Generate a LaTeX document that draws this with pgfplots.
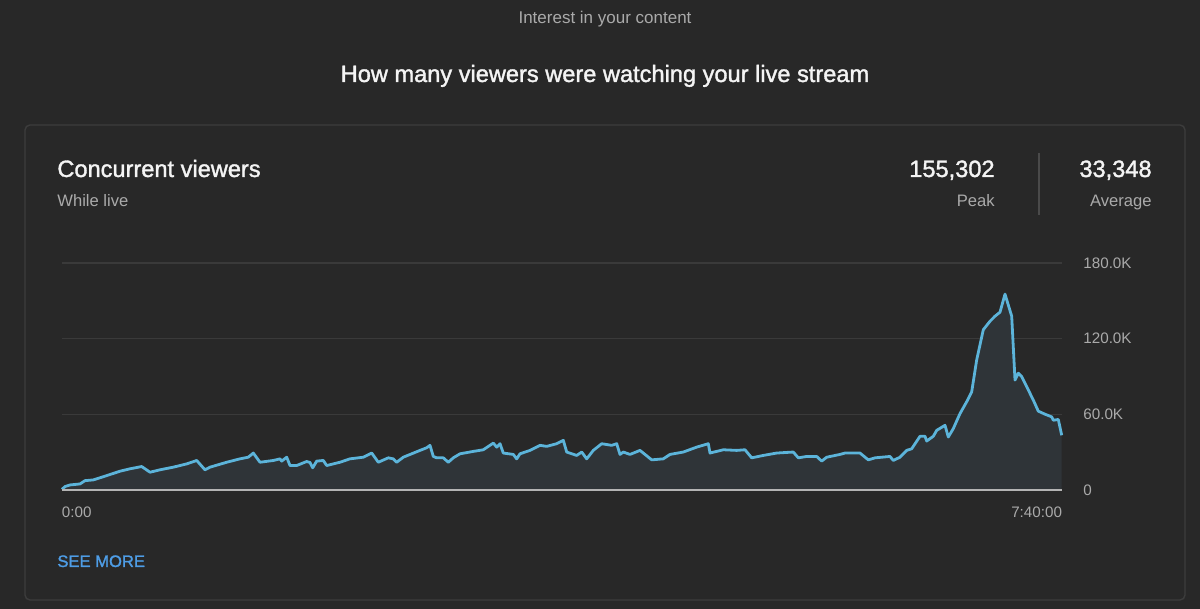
\documentclass[border=0pt]{standalone}
\usepackage{pgfplots}
\pgfplotsset{compat=1.18}
\usepackage{pgfplotstable}
\usepackage{fontspec}
\setmainfont{Liberation Sans}
\newfontfamily\med[FakeBold=1.5]{Liberation Sans}
\definecolor{bg}{HTML}{282828}
\definecolor{cardborder}{HTML}{3C3C3C}
\definecolor{graytext}{HTML}{AAAAAA}
\definecolor{whitetext}{HTML}{F4F4F4}
\definecolor{linec}{HTML}{5CB4DA}
\definecolor{fillc}{HTML}{2F3438}
\definecolor{gridc}{HTML}{3A3A3A}
\definecolor{basec}{HTML}{B4B4B4}
\definecolor{bluetext}{HTML}{4E9DE6}
\definecolor{divc}{HTML}{4A4A4A}

\pgfplotstableread{
p v
0 0.5
3 2.7
8 4
18 4.8
23 7.4
31.3 8
44.7 11.4
58 14.9
68 16.8
79.7 18.6
88 14.1
98 16
111.3 18.1
124.7 20.7
134.7 23.4
143 16
148 18.1
164.7 22
178 24.7
186.3 26
191.3 29.3
198 22
211.3 23.4
218 24.7
219.7 22.9
224.7 26
228 19.4
234.7 19.4
244.7 22.6
248 21.8
250.7 17.6
254.7 22.9
261.3 23.4
264.7 19.4
278 22
288 24.7
301.3 26
309.7 29.3
316.3 22
326.3 25.5
331.3 24.7
334.7 22
341.3 26
358 31.4
364.7 33.5
368 35.4
371.3 26.6
374.7 25.5
381.3 25.5
386.3 22
391.3 25.5
398 28.7
411.3 30.6
421.3 31.9
431.3 37.2
434.7 34
438 36.7
441.3 29.3
451.3 28.2
454.7 24.7
458 28.7
468 31.4
478 35.4
484.7 34.6
494.7 36.7
501.3 39.4
504.7 30.1
514.7 27.4
519.7 30.1
524.7 24.7
531.3 31.4
539.7 36.7
549.7 35.4
554.7 36.7
558 28.2
561.3 30.1
568 28.2
578 31.4
589.7 23.9
601.3 24.7
608 28.2
621.3 30.1
634.7 34
646.3 36.7
648 29.3
661.3 31.9
674.7 31.4
683 31.9
689.7 25.5
701.3 27.4
714.7 29.3
731.3 30.1
736.3 25.5
744.7 26.6
754.7 26.6
759.7 22.9
764.7 26
778 28.2
783 29.3
798 29.3
806.3 23.9
813 25.5
828 26.6
831.3 23.4
838 26
844.7 31.4
849.7 32.7
858 42.6
863 42.6
864.7 38.8
871.3 42.6
874.7 47.3
883 51.3
886.3 42
891.3 48.7
898 60.6
904.7 70
909.7 77.9
914.7 103.2
921.3 127.1
928 133.8
933 137.8
938 141
943 155.3
949.7 137.8
953 87.2
956.3 92.6
959.7 89.9
964.7 81.9
971.3 71.3
976.3 62.5
983 60.1
989.7 58
991.3 55.3
996.3 55.9
999.7 43.4
}\viewers

\begin{document}
\begin{tikzpicture}
\fill[bg] (0pt,0pt) rectangle (600pt,304.5pt);
\useasboundingbox (0pt,0pt) rectangle (600pt,304.5pt);
\draw[cardborder, line width=0.7pt, rounded corners=2.5pt] (12.5pt,4.5pt) rectangle (592.5pt,242pt);
\node[anchor=base, inner sep=0pt, text=graytext, font=\fontsize{8.5}{10}\selectfont] at (302.5pt,292.5pt) {Interest in your content};
\node[anchor=base, inner sep=0pt, text=whitetext, font=\med\fontsize{11.8}{14}\selectfont] at (302.5pt,263.5pt) {How many viewers were watching your live stream};
\node[anchor=base west, inner sep=0pt, text=whitetext, font=\med\fontsize{11.8}{14}\selectfont] at (28.5pt,216pt) {Concurrent viewers};
\node[anchor=base west, inner sep=0pt, text=graytext, font=\fontsize{8.3}{10}\selectfont] at (28.5pt,201pt) {While live};
\node[anchor=base east, inner sep=0pt, text=whitetext, font=\med\fontsize{11.8}{14}\selectfont] at (497.5pt,216pt) {155,302};
\node[anchor=base east, inner sep=0pt, text=graytext, font=\fontsize{8.3}{10}\selectfont] at (497.5pt,201pt) {Peak};
\draw[divc, line width=0.6pt] (519.5pt,197pt) -- (519.5pt,228pt);
\node[anchor=base east, inner sep=0pt, text=whitetext, font=\med\fontsize{11.8}{14}\selectfont] at (576pt,216pt) {33,348};
\node[anchor=base east, inner sep=0pt, text=graytext, font=\fontsize{8.3}{10}\selectfont] at (576pt,201pt) {Average};
\node[anchor=base west, inner sep=0pt, text=bluetext, font=\med\fontsize{8.3}{10}\selectfont] at (28.5pt,21pt) {SEE MORE};
\begin{axis}[
  at={(31pt,59.5pt)}, anchor=south west,
  scale only axis, width=500pt, height=113.5pt,
  xmin=0, xmax=1000, ymin=0, ymax=180,
  axis line style={draw=none},
  major tick length=0pt,
  ytick={0,60,120,180},
  yticklabels={0,60.0K,120.0K,180.0K},
  ytick pos=right,
  yticklabel style={anchor=west, inner sep=0pt, xshift=10.5pt},
  xtick={0,1000},
  xticklabels={\makebox[0pt][l]{0:00},\makebox[0pt][r]{7:40:00}},
  xtick pos=bottom,
  xticklabel style={anchor=north, inner sep=0pt, yshift=-8pt},
  tick label style={font=\fontsize{7.6}{9}\selectfont, text=graytext},
  ymajorgrids,
  grid style={gridc, line width=0.6pt},
  clip=false,
]
\addplot[fill=fillc, draw=none] table[x=p,y=v]{\viewers} \closedcycle;
\addplot[linec, line width=1.4pt, line join=round] table[x=p,y=v]{\viewers};
\draw[basec, line width=1pt] (axis cs:0,0) -- (axis cs:1000,0);
\end{axis}
\end{tikzpicture}
\end{document}
